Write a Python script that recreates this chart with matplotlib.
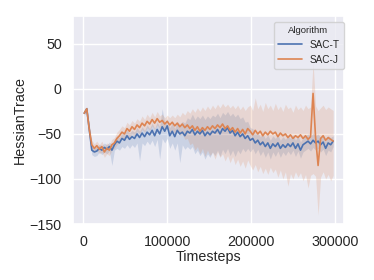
import numpy as np
import matplotlib
matplotlib.use("Agg")
import matplotlib.pyplot as plt
import seaborn as sns

# ---------------- data (step 3000) ----------------
steps = np.arange(1000, 300000, 3000)

sac_t_mean = [-27, -22, -45, -68, -70, -69, -66, -68, -65, -67,
              -64, -68, -62, -58, -60, -55, -57, -52, -56, -53,
              -55, -50, -54, -49, -53, -48, -51, -46, -52, -45,
              -50, -42, -47, -41, -52, -47, -53, -46, -50, -48,
              -52, -47, -49, -45, -51, -47, -50, -46, -52, -48,
              -51, -47, -49, -45, -50, -44, -47, -43, -49, -46,
              -52, -48, -53, -50, -55, -52, -57, -55, -60, -57,
              -62, -59, -64, -60, -66, -61, -64, -60, -66, -62,
              -65, -61, -64, -60, -66, -61, -68, -62, -60, -58,
              -61, -57, -60, -58, -62, -59, -66, -60, -62, -58]
sac_t_low = [-29, -25, -50, -73, -75, -74, -70, -73, -70, -72,
             -69, -85, -68, -66, -68, -64, -66, -62, -66, -62,
             -65, -60, -80, -60, -63, -58, -62, -57, -64, -56,
             -78, -55, -60, -55, -66, -60, -68, -60, -82, -62,
             -67, -64, -67, -64, -72, -68, -74, -70, -78, -72,
             -76, -70, -74, -68, -75, -67, -72, -66, -74, -68,
             -75, -68, -72, -66, -70, -66, -70, -66, -72, -67,
             -74, -69, -76, -70, -78, -70, -75, -69, -76, -70,
             -74, -69, -73, -68, -75, -69, -77, -70, -68, -66,
             -69, -65, -68, -66, -70, -67, -74, -68, -70, -64]
sac_t_high = [-25, -20, -40, -63, -65, -64, -62, -63, -60, -62,
              -59, -62, -56, -52, -54, -49, -50, -46, -49, -46,
              -48, -43, -47, -42, -46, -40, -44, -38, -44, -37,
              -42, -22, -38, -33, -43, -38, -44, -36, -40, -36,
              -38, -32, -34, -28, -34, -30, -33, -29, -34, -30,
              -33, -29, -31, -27, -32, -26, -29, -25, -30, -27,
              -31, -28, -33, -31, -37, -36, -43, -44, -50, -48,
              -53, -50, -55, -51, -57, -52, -55, -51, -57, -53,
              -56, -52, -55, -51, -57, -52, -59, -54, -52, -50,
              -53, -49, -52, -50, -54, -51, -58, -52, -54, -52]

sac_j_mean = [-27, -22, -45, -62, -66, -63, -67, -64, -70, -66,
              -68, -62, -60, -55, -52, -48, -50, -44, -47, -42,
              -45, -40, -43, -38, -41, -36, -39, -34, -38, -33,
              -37, -35, -39, -36, -40, -37, -41, -38, -42, -39,
              -43, -40, -44, -41, -46, -42, -47, -43, -46, -42,
              -45, -41, -44, -40, -43, -39, -44, -41, -46, -43,
              -48, -44, -49, -45, -50, -44, -47, -51, -46, -50,
              -47, -52, -48, -51, -47, -50, -48, -53, -49, -52,
              -50, -54, -51, -55, -52, -54, -51, -55, -52, -56,
              -53, -5, -54, -85, -55, -52, -57, -54, -56, -58]
sac_j_low = [-29, -25, -50, -67, -71, -68, -72, -70, -76, -72,
             -74, -68, -66, -62, -59, -55, -58, -51, -55, -50,
             -52, -47, -50, -45, -48, -43, -46, -41, -45, -40,
             -44, -42, -46, -43, -48, -45, -50, -47, -52, -50,
             -56, -55, -62, -60, -68, -64, -72, -66, -75, -68,
             -74, -70, -78, -70, -76, -72, -80, -74, -82, -75,
             -84, -78, -86, -80, -88, -79, -85, -90, -84, -92,
             -86, -94, -88, -95, -87, -93, -89, -98, -90, -100,
             -92, -108, -94, -100, -92, -98, -93, -102, -95, -110,
             -96, -94, -97, -140, -98, -92, -100, -95, -102, -96]
sac_j_high = [-25, -20, -40, -57, -61, -58, -62, -58, -64, -60,
              -62, -56, -54, -48, -45, -41, -43, -37, -40, -35,
              -38, -33, -36, -30, -34, -28, -32, -26, -31, -25,
              -30, -28, -32, -29, -32, -29, -32, -28, -31, -26,
              -29, -24, -27, -22, -26, -21, -25, -20, -24, -19,
              -23, -18, -22, -17, -21, -16, -20, -17, -21, -18,
              -22, -18, -23, -19, -24, -20, -18, -24, -10, -22,
              -17, -25, -15, -22, -18, -24, -16, -23, -19, -25,
              -17, -22, -20, -26, -18, -23, -20, -24, -18, -22,
              -20, 30, -19, -24, -21, -18, -23, -20, -22, -24]

# ---------------- plot ----------------
sns.set_theme(style="darkgrid")
plt.rcParams['font.family'] = ['Liberation Sans', 'DejaVu Sans']

fig = plt.figure(figsize=(3.74, 2.8), dpi=100)
ax = fig.add_axes([0.195, 0.2, 0.725, 0.743])

c_t, c_j = sns.color_palette("deep")[0], sns.color_palette("deep")[1]
ax.fill_between(steps, sac_t_low, sac_t_high, color=c_t, alpha=0.2, lw=0)
ax.plot(steps, sac_t_mean, color=c_t, lw=1.2, label="SAC-T")
ax.fill_between(steps, sac_j_low, sac_j_high, color=c_j, alpha=0.2, lw=0)
ax.plot(steps, sac_j_mean, color=c_j, lw=1.2, label="SAC-J")

ax.set_xlim(-12500, 311000)
ax.set_ylim(-150, 81)
ax.set_xticks([0, 100000, 200000, 300000])
ax.set_yticks([-150, -100, -50, 0, 50])
ax.tick_params(labelsize=10.3, pad=2)
ax.set_xlabel("Timesteps", fontsize=10.3, labelpad=1)
ax.set_ylabel("HessianTrace", fontsize=10.3, labelpad=2)

leg = ax.legend(title="Algorithm", loc="upper right", fontsize=7.2,
                title_fontsize=6.8, bbox_to_anchor=(0.998, 0.972),
                borderaxespad=0, handlelength=2.4)

fig.savefig("out.png", dpi=100)
